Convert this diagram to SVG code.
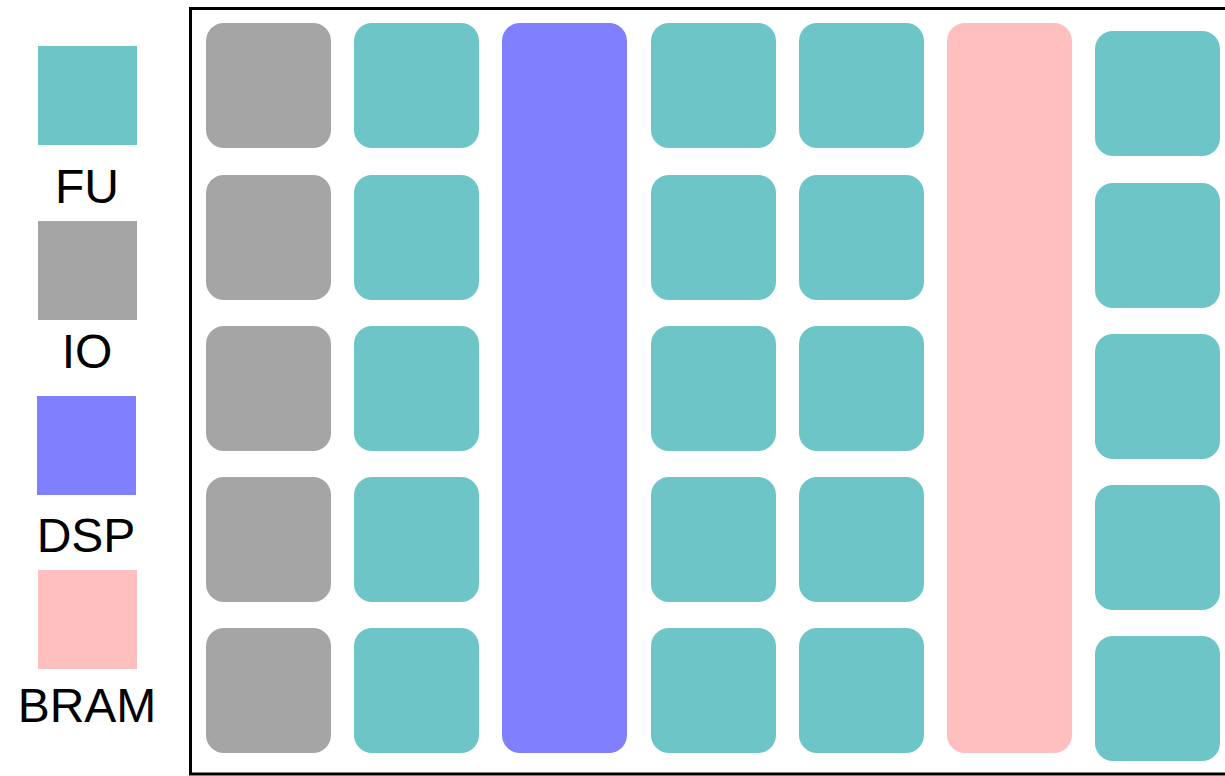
<svg xmlns="http://www.w3.org/2000/svg" width="1225" height="776" viewBox="0 0 1225 776">
<style>
.fu{fill:#6EC5C7}
.io{fill:#A5A5A5}
.dsp{fill:#8080FF}
.bram{fill:#FFBFBF}
.lbl{font-family:"Liberation Sans",Arial,sans-serif;font-size:48px;fill:#000;text-anchor:middle}
</style>
<rect width="1225" height="776" fill="#fff"/>
<g id="legend">
<g id="legend-fu"><rect class="fu" x="38" y="46" width="99" height="99"/><text class="lbl" x="87" y="203">FU</text></g>
<g id="legend-io"><rect class="io" x="38" y="221" width="99" height="99"/><text class="lbl" x="87" y="368">IO</text></g>
<g id="legend-dsp"><rect class="dsp" x="37" y="396" width="99" height="99"/><text class="lbl" x="86" y="552">DSP</text></g>
<g id="legend-bram"><rect class="bram" x="38" y="570" width="99" height="99"/><text class="lbl" x="87" y="722">BRAM</text></g>
</g>
<g id="fabric">
<rect x="190.5" y="8.5" width="1040" height="765.5" fill="none" stroke="#000" stroke-width="3"/>
</g>
<g id="io-col">
<rect class="io" x="206" y="23" width="125" height="125" rx="18"/>
<rect class="io" x="206" y="175" width="125" height="125" rx="18"/>
<rect class="io" x="206" y="326" width="125" height="125" rx="18"/>
<rect class="io" x="206" y="477" width="125" height="125" rx="18"/>
<rect class="io" x="206" y="628" width="125" height="125" rx="18"/>
</g>
<g id="fu-col1">
<rect class="fu" x="354" y="23" width="125" height="125" rx="18"/>
<rect class="fu" x="354" y="175" width="125" height="125" rx="18"/>
<rect class="fu" x="354" y="326" width="125" height="125" rx="18"/>
<rect class="fu" x="354" y="477" width="125" height="125" rx="18"/>
<rect class="fu" x="354" y="628" width="125" height="125" rx="18"/>
</g>
<g id="dsp-col"><rect class="dsp" x="502" y="23" width="125" height="730" rx="18"/></g>
<g id="fu-col2">
<rect class="fu" x="651" y="23" width="125" height="125" rx="18"/>
<rect class="fu" x="651" y="175" width="125" height="125" rx="18"/>
<rect class="fu" x="651" y="326" width="125" height="125" rx="18"/>
<rect class="fu" x="651" y="477" width="125" height="125" rx="18"/>
<rect class="fu" x="651" y="628" width="125" height="125" rx="18"/>
</g>
<g id="fu-col3">
<rect class="fu" x="799" y="23" width="125" height="125" rx="18"/>
<rect class="fu" x="799" y="175" width="125" height="125" rx="18"/>
<rect class="fu" x="799" y="326" width="125" height="125" rx="18"/>
<rect class="fu" x="799" y="477" width="125" height="125" rx="18"/>
<rect class="fu" x="799" y="628" width="125" height="125" rx="18"/>
</g>
<g id="bram-col"><rect class="bram" x="947" y="23" width="125" height="730" rx="18"/></g>
<g id="fu-col4">
<rect class="fu" x="1095" y="31" width="125" height="125" rx="18"/>
<rect class="fu" x="1095" y="183" width="125" height="125" rx="18"/>
<rect class="fu" x="1095" y="334" width="125" height="125" rx="18"/>
<rect class="fu" x="1095" y="485" width="125" height="125" rx="18"/>
<rect class="fu" x="1095" y="636" width="125" height="125" rx="18"/>
</g>
<g id="connectors"/>
</svg>
